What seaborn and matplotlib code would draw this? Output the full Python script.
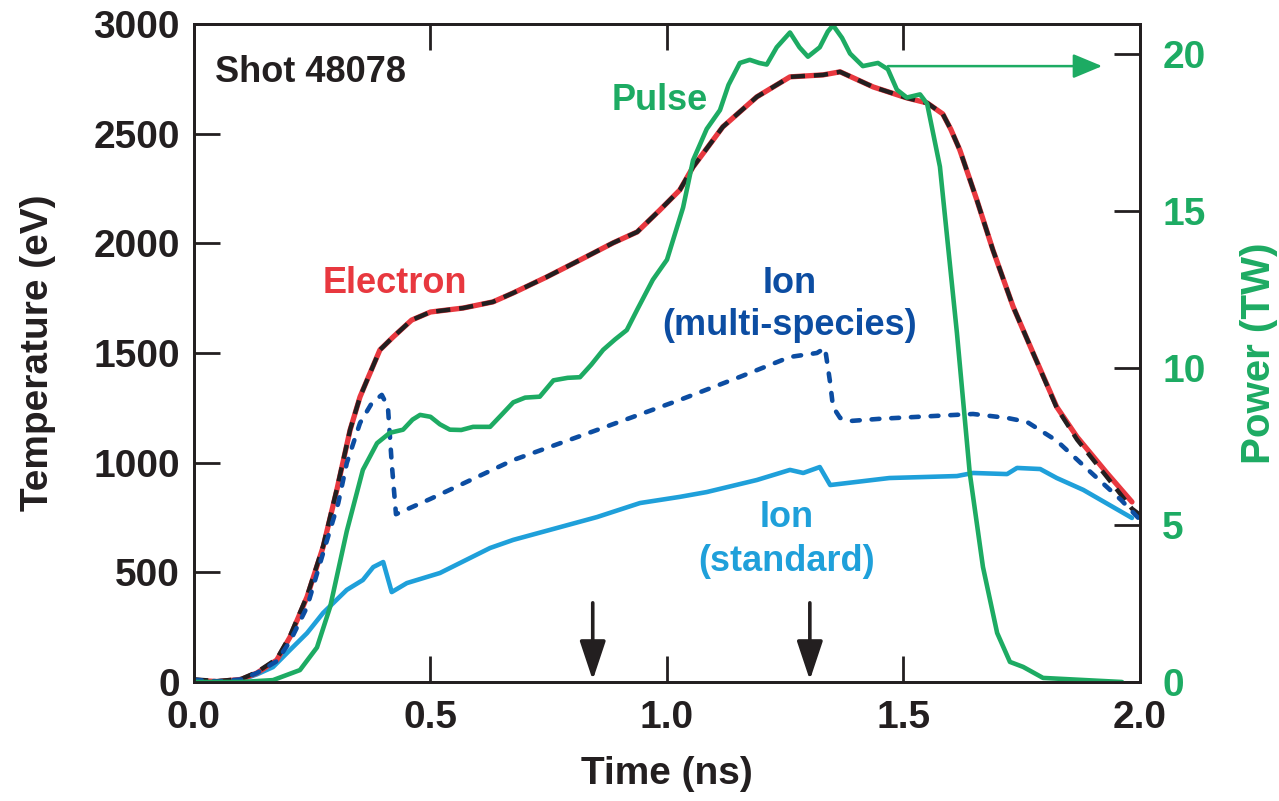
import numpy as np
import seaborn as sns
import matplotlib.pyplot as plt

sns.set_theme(style="ticks")
plt.rcParams['font.family'] = ['Liberation Sans', 'DejaVu Sans']
plt.rcParams['font.weight'] = 'bold'

# colores
RED = '#E8383F'
BLACK = '#231F20'
DBLUE = '#0C4DA2'
LBLUE = '#1FA0DA'
GREEN = '#1DAB63'

# Temperatura electronica (eV) vs tiempo (ns)
t_elec = [0.0, 0.05, 0.10, 0.133, 0.175, 0.203, 0.239, 0.273, 0.302, 0.33, 0.351,
          0.366, 0.393, 0.421, 0.46, 0.5, 0.569, 0.632, 0.675, 0.746, 0.816, 0.886,
          0.937, 0.985, 1.027, 1.055, 1.118, 1.19, 1.26, 1.33, 1.366, 1.436, 1.507,
          1.55, 1.583, 1.60, 1.619, 1.655, 1.689, 1.732, 1.774, 1.824, 1.867, 1.93, 1.983]
T_elec = [8, 2, 12, 41, 100, 205, 388, 616, 876, 1149, 1300,
          1377, 1514, 1573, 1650, 1687, 1705, 1733, 1774, 1847, 1924, 2002,
          2052, 2152, 2243, 2348, 2531, 2668, 2759, 2768, 2782, 2713, 2663,
          2640, 2590, 2520, 2426, 2198, 1970, 1710, 1500, 1254, 1117, 953, 821]

# curva negra discontinua (casi igual a la electronica)
t_black = [0.0, 0.05, 0.10, 0.133, 0.175, 0.203, 0.239, 0.273, 0.302, 0.33, 0.351,
           0.366, 0.393, 0.421, 0.46, 0.5, 0.569, 0.632, 0.675, 0.746, 0.816, 0.886,
           0.937, 0.985, 1.027, 1.055, 1.118, 1.19, 1.26, 1.33, 1.366, 1.436, 1.507,
           1.55, 1.583, 1.60, 1.619, 1.655, 1.689, 1.732, 1.774, 1.824, 1.867, 1.93, 1.983, 2.0]
T_black = [12, 4, 14, 45, 105, 210, 392, 620, 880, 1150, 1300,
           1377, 1514, 1573, 1650, 1687, 1705, 1733, 1774, 1847, 1924, 2002,
           2052, 2152, 2243, 2348, 2531, 2668, 2759, 2768, 2782, 2713, 2663,
           2640, 2590, 2520, 2426, 2198, 1970, 1710, 1500, 1250, 1105, 935, 790, 762]

# Ion (multi-especies)
t_multi = [0.0, 0.05, 0.10, 0.133, 0.175, 0.203, 0.239, 0.273, 0.305, 0.323, 0.351,
           0.376, 0.397, 0.41, 0.418, 0.427, 0.5, 0.675, 0.852, 1.027, 1.154, 1.26,
           1.317, 1.334, 1.34, 1.345, 1.351, 1.366, 1.387, 1.45, 1.647, 1.719, 1.761,
           1.824, 1.894, 1.96, 2.0]
T_multi = [10, 3, 12, 41, 95, 185, 342, 588, 816, 998, 1181,
           1272, 1309, 1254, 998, 765, 835, 1012, 1149, 1286, 1391, 1482,
           1500, 1523, 1437, 1363, 1254, 1204, 1190, 1200, 1222, 1204, 1186,
           1100, 960, 830, 740]

# Ion (estandar)
t_std = [0.0, 0.05, 0.10, 0.133, 0.167, 0.203, 0.239, 0.273, 0.323, 0.357, 0.379,
         0.40, 0.418, 0.45, 0.52, 0.626, 0.675, 0.852, 0.943, 1.027, 1.084, 1.19,
         1.26, 1.288, 1.323, 1.345, 1.47, 1.613, 1.647, 1.719, 1.74, 1.789, 1.824,
         1.88, 1.983]
T_std = [5, 2, 10, 35, 68, 146, 223, 315, 420, 465, 524,
         547, 410, 451, 497, 611, 648, 752, 816, 844, 866, 921,
         967, 953, 980, 898, 930, 939, 953, 948, 976, 971, 930,
         876, 748]

# Pulso laser (TW)
t_pulse = [0.0, 0.1, 0.167, 0.224, 0.26, 0.288, 0.323, 0.357, 0.387, 0.414, 0.442,
           0.462, 0.478, 0.5, 0.52, 0.541, 0.565, 0.59, 0.626, 0.65, 0.675, 0.70,
           0.731, 0.76, 0.79, 0.816, 0.84, 0.865, 0.89, 0.915, 0.937, 0.97, 1.0,
           1.034, 1.055, 1.084, 1.112, 1.13, 1.154, 1.175, 1.195, 1.211, 1.232, 1.26,
           1.28, 1.298, 1.323, 1.34, 1.351, 1.37, 1.387, 1.414, 1.446, 1.467, 1.486,
           1.507, 1.535, 1.55, 1.577, 1.613, 1.64, 1.668, 1.698, 1.725, 1.753, 1.795,
           1.962]
P_pulse = [0.0, 0.0, 0.06, 0.38, 1.1, 2.4, 4.8, 6.75, 7.6, 7.93, 8.03,
           8.35, 8.5, 8.44, 8.2, 8.03, 8.02, 8.12, 8.12, 8.5, 8.9, 9.05,
           9.08, 9.6, 9.68, 9.7, 10.1, 10.57, 10.9, 11.2, 11.85, 12.8, 13.44,
           15.1, 16.6, 17.6, 18.2, 19.0, 19.7, 19.8, 19.7, 19.65, 20.2, 20.67,
           20.2, 19.9, 20.2, 20.7, 20.9, 20.5, 20.0, 19.6, 19.7, 19.5, 18.85,
           18.6, 18.7, 18.4, 16.4, 11.1, 6.66, 3.66, 1.56, 0.64, 0.48, 0.13,
           0.0]

# flechas
arrow_times = [0.843, 1.302]
pulse_arrow = [1.467, 1.92, 19.6]

x_ticks = [0.0, 0.5, 1.0, 1.5, 2.0]
T_ticks = [0, 500, 1000, 1500, 2000, 2500, 3000]
P_ticks = [0, 5, 10, 15, 20]

fig = plt.figure(figsize=(12.79, 8.01), dpi=100)
ax = fig.add_axes([0.15168, 0.14856, 0.73964, 0.82147])

def linea(axis, x, y, color, lw, dashes=None, cap='butt'):
    sns.lineplot(x=np.array(x), y=np.array(y), ax=axis, color=color,
                 sort=False, estimator=None)
    ln = axis.lines[-1]
    ln.set_linewidth(lw)
    ln.set_solid_joinstyle('round')
    ln.set_solid_capstyle('round')
    if dashes is not None:
        ln.set_dashes(dashes)
        ln.set_dash_capstyle(cap)
    return ln

linea(ax, t_std, T_std, LBLUE, 3.3)
linea(ax, t_elec, T_elec, RED, 3.8)
linea(ax, t_black, T_black, BLACK, 3.2, dashes=(3.2, 2.0))
linea(ax, t_multi, T_multi, DBLUE, 3.3, dashes=(1.7, 2.6), cap='round')

ax.set_xlim(0, 2.0)
ax.set_ylim(0, 3000)
ax.set_xticks(x_ticks)
ax.set_xticklabels([f"{v:.1f}" for v in x_ticks])
ax.set_yticks(T_ticks)
ax.tick_params(axis='x', direction='in', length=19, width=2, top=True,
               labelsize=28, pad=13, colors=BLACK)
ax.tick_params(axis='y', direction='in', length=19, width=2, right=False,
               labelsize=28, pad=10, colors=BLACK)
for lab in ax.get_xticklabels() + ax.get_yticklabels():
    lab.set_fontweight('bold')
for sp in ax.spines.values():
    sp.set_linewidth(2)
    sp.set_color(BLACK)

ax.set_xlabel("Time (ns)", fontsize=28, fontweight='bold', color=BLACK)
ax.set_ylabel("Temperature (eV)", fontsize=28, fontweight='bold', color=BLACK)
ax.xaxis.set_label_coords(0.5, -0.112)
ax.yaxis.set_label_coords(-0.146, 0.5)

# eje derecho: potencia
ax2 = ax.twinx()
linea(ax2, t_pulse, P_pulse, GREEN, 3.3)
ax2.set_ylim(0, 20.94)
ax2.set_yticks(P_ticks)
ax2.tick_params(axis='y', direction='in', length=19, width=2, right=True,
                labelsize=28, pad=16, colors=BLACK, labelcolor=GREEN)
for lab in ax2.get_yticklabels():
    lab.set_fontweight('bold')
for sp in ax2.spines.values():
    sp.set_linewidth(2)
    sp.set_color(BLACK)
ax2.set_ylabel("Power (TW)", fontsize=29, fontweight='bold', color=GREEN)
ax2.yaxis.set_label_coords(1.106, 0.5)

ax2.annotate("", xy=(pulse_arrow[1], pulse_arrow[2]), xytext=(pulse_arrow[0], pulse_arrow[2]),
             arrowprops=dict(arrowstyle='-|>,head_length=0.6,head_width=0.25',
                             mutation_scale=30, color=GREEN, lw=1.8,
                             shrinkA=0, shrinkB=0))

for ta in arrow_times:
    ax.annotate("", xy=(ta, 9), xytext=(ta, 361),
                arrowprops=dict(arrowstyle='-|>,head_length=1.2,head_width=0.4',
                                mutation_scale=20, color=BLACK, lw=2.6,
                                shrinkA=0, shrinkB=0))

# textos
ax.text(0.044, 2736, "Shot 48078", fontsize=26, fontweight='bold', color=BLACK,
        ha='left', va='baseline')
ax.text(0.425, 1774, "Electron", fontsize=26, fontweight='bold', color=RED,
        ha='center', va='baseline')
ax.text(0.985, 2608, "Pulse", fontsize=26, fontweight='bold', color=GREEN,
        ha='center', va='baseline')
ax.text(1.26, 1774, "Ion", fontsize=26, fontweight='bold', color=DBLUE,
        ha='center', va='baseline')
ax.text(1.26, 1582, "(multi-species)", fontsize=26, fontweight='bold', color=DBLUE,
        ha='center', va='baseline')
ax.text(1.252, 707, "Ion", fontsize=26, fontweight='bold', color=LBLUE,
        ha='center', va='baseline')
ax.text(1.252, 506, "(standard)", fontsize=26, fontweight='bold', color=LBLUE,
        ha='center', va='baseline')

fig.savefig("out.png", dpi=100)
